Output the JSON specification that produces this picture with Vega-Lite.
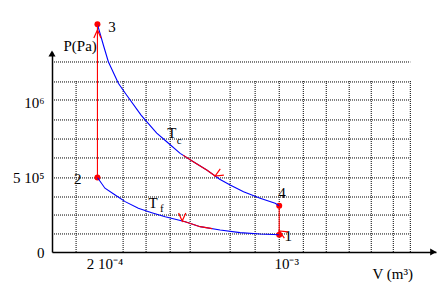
{
  "$schema": "https://vega.github.io/schema/vega-lite/v6.json",
  "width": 384,
  "height": 200,
  "autosize": {"type": "none"},
  "padding": {"left": 52, "top": 52, "right": 5, "bottom": 54},
  "background": "white",
  "config": {"view": {"stroke": null}},
  "datasets": {
    "hgrid": [
      {"P": 1275000}, {"P": 1141000}, {"P": 1020000}, {"P": 886000}, {"P": 758000},
      {"P": 631000}, {"P": 497000}, {"P": 369000}, {"P": 248000}, {"P": 121000}
    ],
    "vgrid": [
      {"V": 0.000106}, {"V": 0.000313}, {"V": 0.000414}, {"V": 0.00052},
      {"V": 0.000608}, {"V": 0.000784}, {"V": 0.000894}, {"V": 0.001}, {"V": 0.001106},
      {"V": 0.001207}, {"V": 0.001308}, {"V": 0.001405}, {"V": 0.001502}, {"V": 0.001577}
    ],
    "paths": [
      {"path": "Tc", "i": 0, "V": 0.0002, "P": 1528000},
      {"path": "Tc", "i": 1, "V": 0.000226, "P": 1389000},
      {"path": "Tc", "i": 2, "V": 0.000248, "P": 1277000},
      {"path": "Tc", "i": 3, "V": 0.000292, "P": 1132000},
      {"path": "Tc", "i": 4, "V": 0.000325, "P": 1060000},
      {"path": "Tc", "i": 5, "V": 0.000392, "P": 919000},
      {"path": "Tc", "i": 6, "V": 0.00041, "P": 886000},
      {"path": "Tc", "i": 7, "V": 0.000461, "P": 797000},
      {"path": "Tc", "i": 8, "V": 0.000505, "P": 740000},
      {"path": "Tc", "i": 9, "V": 0.000564, "P": 662000},
      {"path": "Tc", "i": 10, "V": 0.000622, "P": 606000},
      {"path": "Tc", "i": 11, "V": 0.000681, "P": 550000},
      {"path": "Tc", "i": 12, "V": 0.000738, "P": 488000},
      {"path": "Tc", "i": 13, "V": 0.000784, "P": 450000},
      {"path": "Tc", "i": 14, "V": 0.000843, "P": 405000},
      {"path": "Tc", "i": 15, "V": 0.000916, "P": 360000},
      {"path": "Tc", "i": 16, "V": 0.000982, "P": 327000},
      {"path": "Tc", "i": 17, "V": 0.001, "P": 311000},
      {"path": "Tf", "i": 0, "V": 0.0002, "P": 500000},
      {"path": "Tf", "i": 1, "V": 0.000233, "P": 428000},
      {"path": "Tf", "i": 2, "V": 0.000278, "P": 383000},
      {"path": "Tf", "i": 3, "V": 0.000322, "P": 338000},
      {"path": "Tf", "i": 4, "V": 0.00038, "P": 293000},
      {"path": "Tf", "i": 5, "V": 0.000439, "P": 264000},
      {"path": "Tf", "i": 6, "V": 0.000498, "P": 237000},
      {"path": "Tf", "i": 7, "V": 0.000556, "P": 215000},
      {"path": "Tf", "i": 8, "V": 0.000586, "P": 203000},
      {"path": "Tf", "i": 9, "V": 0.000652, "P": 170000},
      {"path": "Tf", "i": 10, "V": 0.00074, "P": 148000},
      {"path": "Tf", "i": 11, "V": 0.000828, "P": 130000},
      {"path": "Tf", "i": 12, "V": 0.000916, "P": 121000},
      {"path": "Tf", "i": 13, "V": 0.001, "P": 116000},
      {"path": "2-3", "i": 0, "V": 0.0002, "P": 500000},
      {"path": "2-3", "i": 1, "V": 0.0002, "P": 1528000},
      {"path": "4-1", "i": 0, "V": 0.001, "P": 311000},
      {"path": "4-1", "i": 1, "V": 0.001, "P": 116000},
      {"path": "Tc arrow", "i": 0, "V": 0.000577, "P": 650000},
      {"path": "Tc arrow", "i": 1, "V": 0.000622, "P": 606000},
      {"path": "Tc arrow", "i": 2, "V": 0.000681, "P": 550000},
      {"path": "Tc arrow", "i": 3, "V": 0.000718, "P": 510000},
      {"path": "Tf arrow", "i": 0, "V": 0.000573, "P": 208000},
      {"path": "Tf arrow", "i": 1, "V": 0.000586, "P": 203000},
      {"path": "Tf arrow", "i": 2, "V": 0.000652, "P": 170000},
      {"path": "Tf arrow", "i": 3, "V": 0.000705, "P": 157000}
    ],
    "states": [
      {"state": "1", "V": 0.001, "P": 116000},
      {"state": "2", "V": 0.0002, "P": 500000},
      {"state": "3", "V": 0.0002, "P": 1528000},
      {"state": "4", "V": 0.001, "P": 311000}
    ],
    "arrows": [
      {"name": "up", "V": 0.0002, "P": 1490000},
      {"name": "down", "V": 0.001, "P": 141000},
      {"name": "Tc", "V": 0.000718, "P": 510000},
      {"name": "Tf", "V": 0.000573, "P": 208000}
    ],
    "axisArrows": [
      {"axis": "x", "V": 0.001678, "P": 0},
      {"axis": "y", "V": 0, "P": 1332000}
    ],
    "labels": [
      {"t": "3", "V": 0.000264, "P": 1510000, "k": "main"},
      {"t": "2", "V": 0.000113, "P": 490000, "k": "main"},
      {"t": "4", "V": 0.001012, "P": 394000, "k": "main"},
      {"t": "1", "V": 0.00104, "P": 107000, "k": "main"},
      {"t": "T", "V": 0.000527, "P": 799000, "k": "main"},
      {"t": "c", "V": 0.00056, "P": 747000, "k": "sub"},
      {"t": "T", "V": 0.000445, "P": 329000, "k": "main"},
      {"t": "f", "V": 0.000483, "P": 289000, "k": "sub"}
    ]
  },
  "layer": [
    {
      "data": {"name": "hgrid"},
      "mark": {"type": "rule", "strokeDash": [1, 1], "color": "black", "strokeWidth": 1},
      "encoding": {
        "y": {
          "field": "P", "type": "quantitative",
          "scale": {"domain": [0, 1342000], "nice": false, "zero": false},
          "axis": {
            "values": [0, 500000, 1000000],
            "labelExpr": "datum.value == 0 ? '0\u2002\u2009' : datum.value < 700000 ? '5 10⁵' : '10⁶'",
            "ticks": false, "grid": false,
            "domainColor": "black", "domainWidth": 1.5,
            "labelFont": "Liberation Serif", "labelFontSize": 15, "labelColor": "black",
            "labelPadding": 8, "labelBaseline": "middle", "labelFlush": false, "labelOverlap": false, "labelBound": false,
            "title": "P(Pa)", "titleFont": "Liberation Serif", "titleFontSize": 15, "titleFontWeight": "normal",
            "titleColor": "black", "titleX": 11, "titleY": -7, "titleAlign": "left", "titleBaseline": "middle", "titleAngle": 0
          }
        },
        "x": {"datum": 0, "type": "quantitative"},
        "x2": {"datum": 0.001577}
      }
    },
    {
      "data": {"name": "vgrid"},
      "mark": {"type": "rule", "strokeDash": [1, 1], "color": "black", "strokeWidth": 1},
      "encoding": {
        "x": {
          "field": "V", "type": "quantitative",
          "scale": {"domain": [0, 0.00169], "nice": false, "zero": false},
          "axis": {
            "values": [0.0002, 0.001],
            "labelExpr": "datum.value < 0.0005 ? '2 10⁻⁴' : '10⁻³'",
            "ticks": false, "grid": false,
            "domainColor": "black", "domainWidth": 1.5,
            "labelFont": "Liberation Serif", "labelFontSize": 15, "labelColor": "black",
            "labelPadding": 4, "labelOffset": 7, "labelFlush": false, "labelOverlap": false, "labelBound": false,
            "title": "V (m³)", "titleFont": "Liberation Serif", "titleFontSize": 15, "titleFontWeight": "normal",
            "titleColor": "black", "titleX": 320, "titleY": 21, "titleAlign": "left", "titleBaseline": "middle", "titleAngle": 0
          }
        },
        "y": {"datum": 0, "type": "quantitative"},
        "y2": {"datum": 1154000}
      }
    },
    {
      "data": {"name": "states"},
      "mark": {"type": "circle", "color": "#ff0000", "size": 36, "opacity": 1},
      "encoding": {
        "x": {"field": "V", "type": "quantitative"},
        "y": {"field": "P", "type": "quantitative"}
      }
    },
    {
      "data": {"name": "paths"},
      "mark": {"type": "line"},
      "encoding": {
        "x": {"field": "V", "type": "quantitative"},
        "y": {"field": "P", "type": "quantitative"},
        "color": {
          "field": "path", "type": "nominal",
          "scale": {"domain": ["Tc", "Tf", "2-3", "4-1", "Tc arrow", "Tf arrow"], "range": ["#0000ff", "#0000ff", "#ff0000", "#ff0000", "#ff0000", "#ff0000"]},
          "legend": null
        },
        "strokeWidth": {
          "field": "path", "type": "nominal",
          "scale": {"domain": ["Tc", "Tf", "2-3", "4-1", "Tc arrow", "Tf arrow"], "range": [1.1, 1.1, 1.2, 1.2, 1.4, 1.4]},
          "legend": null
        },
        "order": {"field": "i", "type": "quantitative"}
      }
    },
    {
      "data": {"name": "arrows"},
      "mark": {"type": "point", "shape": "M-1,-0.45L0,0L-1,0.45", "filled": false, "color": "#ff0000", "strokeWidth": 1.2, "size": 256, "opacity": 1},
      "encoding": {
        "x": {"field": "V", "type": "quantitative"},
        "y": {"field": "P", "type": "quantitative"},
        "angle": {"field": "name", "type": "nominal", "scale": {"domain": ["up", "down", "Tc", "Tf"], "range": [270, 90, 36, 197]}, "legend": null}
      }
    },
    {
      "data": {"name": "axisArrows"},
      "mark": {"type": "point", "filled": true, "color": "black", "size": 50, "opacity": 1},
      "encoding": {
        "x": {"field": "V", "type": "quantitative"},
        "y": {"field": "P", "type": "quantitative"},
        "shape": {"field": "axis", "type": "nominal", "scale": {"domain": ["x", "y"], "range": ["triangle-right", "triangle-up"]}, "legend": null}
      }
    },
    {
      "data": {"name": "labels"},
      "mark": {"type": "text", "font": "Liberation Serif", "color": "black", "align": "center", "baseline": "middle"},
      "encoding": {
        "x": {"field": "V", "type": "quantitative"},
        "y": {"field": "P", "type": "quantitative"},
        "text": {"field": "t"},
        "size": {"field": "k", "type": "nominal", "scale": {"domain": ["main", "sub"], "range": [15, 11]}, "legend": null}
      }
    }
  ]
}
